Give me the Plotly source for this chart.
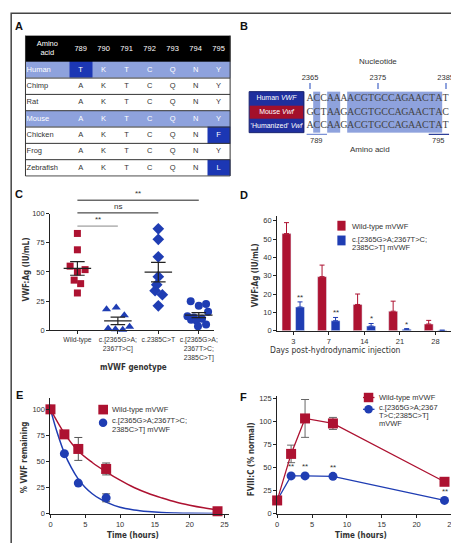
import plotly.graph_objects as go
import numpy as np

W, H = 459, 543
def px(x): return x / W
def py(y): return 1 - y / H

RED = '#ad1231'
BLUE = '#1f3db3'
LB = '#8ea2dd'
DB = '#1c37b4'
NAVY = '#1f2f9e'
BRED = '#a3102b'
FONT = 'Liberation Sans, Arial, sans-serif'
NARROW = 'Liberation Sans Narrow, DejaVu Sans Condensed, Liberation Sans, sans-serif'
SERIF = 'Liberation Serif, DejaVu Serif, serif'
TXT = '#333333'

# ---------------- data ----------------
# Panel A
aa_positions = [789, 790, 791, 792, 793, 794, 795]
species = ['Human', 'Chimp', 'Rat', 'Mouse', 'Chicken', 'Frog', 'Zebrafish']
residues = ['TKTCQNY', 'AKTCQNY', 'AKTCQNY', 'AKTCQNY', 'AKTCQNF', 'AKTCQNY', 'AKTCQNL']
highlight_species = ['Human', 'Mouse']

# Panel B
seq_labels = ['Human <i>VWF</i>', 'Mouse <i>Vwf</i>', "'Humanized' <i>Vwf</i>"]
seq_label_colors = [2, 3, 2]
sequences = ['ACCAAAACGTGCCAGAACTAT', 'GCTAAGACGTGCCAGAACTAC', 'ACCAAGACGTGCCAGAACTAT']
nt_first = 2365
nt_ticks = [2365, 2375, 2385]
codon_labels = [789, 795]
codon_first_nt = [2365, 2383]

# Panel C
genotype_labels = ['Wild-type', 'c.[2365G>A;<br>2367T>C]', 'c.2385C>T', 'c.[2365G>A;<br>2367T>C;<br>2385C>T]']
c_wt = [83, 69, 55, 52, 50, 43, 40, 32]
c_wt_jit = [0, 0, -0.18, 0.19, 0, -0.08, 0.08, 0]
c_dm = [18, 19.5, 13, 1.5, 1, 0.5, 3]
c_dm_jit = [-0.28, -0.04, 0.16, -0.24, -0.06, 0.12, 0.29]
c_sm = [87, 78, 63, 46, 39, 34, 30.5, 21]
c_sm_jit = [0, 0, 0, 0, -0.04, -0.08, 0.1, 0]
c_tm = [25, 22.5, 21, 16, 12, 11, 10, 9, 8.5, 5, 3.5]
c_tm_jit = [-0.2, 0.18, 0, 0.23, -0.28, -0.12, 0.08, -0.19, -0.06, 0.18, -0.02]
c_sig_pairs = [(0, 3), (0, 2), (0, 1)]
c_sig_text = ['**', 'ns', '**']
c_sig_height = [111.5, 100.6, 89.3]

# Panel D
days = ['3', '7', '14', '21', '28']
d_wt = [53, 29.5, 14.3, 10.6, 3.6]
d_wt_err = [6, 6.3, 5.7, 5.5, 2]
d_mut = [12.9, 5.4, 2.5, 0.7, 0.2]
d_mut_err = [2.8, 1.8, 1.4, 0.4, 0]
d_sig = ['**', '**', '*', '*', '']

# Panel E
e_t = [0, 2, 4, 8, 24]
e_wt = [100, 76, 62, 42.8, 2.2]
e_wt_err = [0, 0, 11, 5.7, 0]
e_mut_t = [0, 2, 4, 8]
e_mut = [100, 57.5, 29.2, 15.1]
e_mut_err = [0, 0, 0, 3.8]
fit_wt_t = [0, 2, 4, 6, 8, 10, 12, 14, 16, 18, 20, 22, 24]
fit_wt = [100, 77, 60, 49, 40, 32, 25, 19.5, 15, 11, 8, 5.5, 3.5]
fit_mut_t = [0, 1, 2, 3, 4, 5, 6, 7, 8, 10, 12, 14, 16, 18, 20, 24]
fit_mut = [100, 77, 58, 44, 33, 25, 19, 14.5, 11, 6, 3.5, 2, 1, 0.5, 0.2, 0]

# Panel F
f_t = [0, 2, 4, 8, 24]
f_wt = [14.2, 64.6, 103, 97.6, 34.4]
f_wt_err = [0, 9.5, 20.5, 6.5, 0]
f_mut = [14.5, 40.8, 40.8, 40.3, 14.2]
f_sig = ['', '**', '**', '**', '**']

fig = go.Figure()
shapes = []
ann = []

def A(x, y, text, size=7.5, color=TXT, family=FONT, xanchor='center', yanchor='middle', **kw):
    ann.append(dict(x=x, y=y, text=text, showarrow=False, xanchor=xanchor, yanchor=yanchor,
                    font=dict(size=size, color=color, family=family), **kw))

def P(x, y, text, **kw):
    A(px(x), py(y), text, xref='paper', yref='paper', **kw)

# ---------------- Panel A (table) ----------------
consensus = [max(set(col), key=col.count) for col in zip(*residues)]
z_a = [[3] * 8]
for r, sp in enumerate(species):
    base = 1 if sp in highlight_species else 0
    row = [base] + [2 if aa != consensus[j] else base for j, aa in enumerate(residues[r])]
    z_a.append(row)
xa_edges = [-1.9] + list(range(0, 8))
ya_edges = [0, 1.6] + [1.6 + k for k in range(1, 8)]
fig.add_trace(go.Heatmap(z=z_a, x=xa_edges, y=ya_edges, zmin=0, zmax=3, showscale=False,
                         colorscale=[[0, '#ffffff'], [1/3, LB], [2/3, DB], [1, '#000000']],
                         xaxis='x5', yaxis='y5', hoverinfo='skip'))
tx, ty, tt, tc = [-0.95], [0.8], ['Amino<br>acid'], ['white']
for j, p in enumerate(aa_positions):
    tx.append(j + 0.5); ty.append(0.8); tt.append(str(p)); tc.append('white')
for r, sp in enumerate(species):
    for j, aa in enumerate(residues[r]):
        tx.append(j + 0.5); ty.append(2.1 + r); tt.append(aa)
        tc.append('white' if z_a[r + 1][j + 1] > 0 else TXT)
fig.add_trace(go.Scatter(x=tx, y=ty, text=tt, mode='text', textfont=dict(size=7.5, color=tc, family=FONT),
                         xaxis='x5', yaxis='y5', hoverinfo='skip', showlegend=False))
fig.add_trace(go.Scatter(x=[-1.85] * len(species), y=[2.1 + r for r in range(len(species))], text=species,
                         mode='text', textposition='middle right',
                         textfont=dict(size=7.5, family=FONT,
                                       color=['white' if s in highlight_species else TXT for s in species]),
                         xaxis='x5', yaxis='y5', hoverinfo='skip', showlegend=False))
for e in ya_edges[2:]:
    shapes.append(dict(type='line', xref='x5', yref='y5', x0=-1.9, x1=7, y0=e, y1=e, line=dict(color='#333', width=1)))
for xv in [-1.9, 7]:
    shapes.append(dict(type='line', xref='x5', yref='y5', x0=xv, x1=xv, y0=0, y1=ya_edges[-1], line=dict(color='#333', width=1)))

# ---------------- Panel B (alignment) ----------------
n = len(sequences[0])
match = [len(set(s[i] for s in sequences)) == 1 for i in range(n)]
xb_edges = [-8.98, -0.92, -0.5] + [i + 0.5 for i in range(n)]
z_b = []
for r in range(3):
    z_b.append([seq_label_colors[r], None] + [1 if m else None for m in match])
fig.add_trace(go.Heatmap(z=z_b, x=xb_edges, y=[-0.5, 0.5, 1.5, 2.5], zmin=1, zmax=3, showscale=False,
                         colorscale=[[0, LB], [0.5, NAVY], [1, BRED]],
                         xaxis='x6', yaxis='y6', hoverinfo='skip'))
bx, by, bt = [], [], []
for r, s in enumerate(sequences):
    for i, ch in enumerate(s):
        bx.append(i); by.append(r); bt.append(ch)
fig.add_trace(go.Scatter(x=bx, y=by, text=bt, mode='text', textfont=dict(size=10, color='#444', family=SERIF),
                         xaxis='x6', yaxis='y6', hoverinfo='skip', showlegend=False))
fig.add_trace(go.Scatter(x=[-4.95] * 3, y=[0, 1, 2], text=seq_labels, mode='text',
                         textfont=dict(size=7, color='white', family=FONT),
                         xaxis='x6', yaxis='y6', hoverinfo='skip', showlegend=False))
shapes.append(dict(type='rect', xref='x6', yref='y6', x0=-8.98, x1=-0.92, y0=-0.5, y1=2.5,
                   line=dict(color='#1a2470', width=1)))
for k, (lab, nt) in enumerate(zip(codon_labels, codon_first_nt)):
    i0 = nt - nt_first
    shapes.append(dict(type='line', xref='x6', yref='y6', x0=i0 - 0.5, x1=i0 + 2.5, y0=2.62, y1=2.62,
                       line=dict(color=['#7d92d6', '#2d3f99'][k], width=1.3)))
    A(i0 + 1, 3.08, str(lab), xref='x6', yref='y6')
P(372.7, 50.7, 'Nucleotide', size=8)
P(365, 140, 'Amino acid', size=8)

# ---------------- Panel C ----------------
groups = [(c_wt, c_wt_jit, 'square', 7, RED), (c_dm, c_dm_jit, 'triangle-up', 8, BLUE),
          (c_sm, c_sm_jit, 'diamond', 9, BLUE), (c_tm, c_tm_jit, 'circle', 8, BLUE)]
mx, my = [], []
for gi, (vals, jit, sym, sz, col) in enumerate(groups):
    fig.add_trace(go.Scatter(x=[gi + j for j in jit], y=vals, mode='markers', cliponaxis=False,
                             marker=dict(symbol=sym, size=sz, color=col), xaxis='x', yaxis='y',
                             showlegend=False, hoverinfo='skip'))
    m = float(np.mean(vals)); se = float(np.std(vals, ddof=1) / np.sqrt(len(vals)))
    mx += [gi - 0.34, gi + 0.34, None, gi - 0.18, gi + 0.18, None, gi - 0.18, gi + 0.18, None, gi, gi, None]
    my += [m, m, None, m + se, m + se, None, m - se, m - se, None, m - se, m + se, None]
fig.add_trace(go.Scatter(x=mx, y=my, mode='lines', line=dict(color='#222', width=1.2), cliponaxis=False,
                         xaxis='x', yaxis='y', showlegend=False, hoverinfo='skip'))
C_Y0, C_Y1 = 323.7, 205.0
def c_px(v): return C_Y0 - v / 100 * (C_Y0 - C_Y1)
for (a, b), t, h in zip(c_sig_pairs, c_sig_text, c_sig_height):
    shapes.append(dict(type='line', xref='x', yref='paper', x0=a, x1=b, y0=py(c_px(h)), y1=py(c_px(h)),
                       line=dict(color='#222' if b > 1 else '#888', width=1)))
    A((a + b) / 2, py(c_px(h)), t, xref='x', yref='paper', yanchor='bottom', size=8)

# ---------------- Panel D ----------------
fig.add_trace(go.Bar(x=days, y=d_wt, marker_color=RED, xaxis='x2', yaxis='y2', showlegend=False,
                     error_y=dict(type='data', symmetric=False, array=d_wt_err, arrayminus=[0] * 5,
                                  color=RED, thickness=1, width=2.5), hoverinfo='skip'))
fig.add_trace(go.Bar(x=days, y=d_mut, marker_color=BLUE, xaxis='x2', yaxis='y2', showlegend=False,
                     error_y=dict(type='data', symmetric=False, array=d_mut_err, arrayminus=[0] * 5,
                                  color=BLUE, thickness=1, width=2.5), hoverinfo='skip'))
for i, (v, e, s) in enumerate(zip(d_mut, d_mut_err, d_sig)):
    if s:
        A(i, v + e, s, xref='x2', yref='y2', yanchor='bottom', xshift=7, yshift=-2, size=8)

# ---------------- Panel E ----------------
fig.add_trace(go.Scatter(x=fit_mut_t, y=fit_mut, mode='lines', line=dict(color=BLUE, width=1.5),
                         xaxis='x3', yaxis='y3', showlegend=False, hoverinfo='skip', line_shape='spline'))
fig.add_trace(go.Scatter(x=fit_wt_t, y=fit_wt, mode='lines', line=dict(color=RED, width=1.5),
                         xaxis='x3', yaxis='y3', showlegend=False, hoverinfo='skip', line_shape='spline'))
fig.add_trace(go.Scatter(x=e_mut_t, y=e_mut, mode='markers', marker=dict(symbol='circle', size=9, color=BLUE),
                         error_y=dict(type='data', array=e_mut_err, color='#555', thickness=1, width=4),
                         cliponaxis=False, xaxis='x3', yaxis='y3', showlegend=False, hoverinfo='skip'))
fig.add_trace(go.Scatter(x=e_t, y=e_wt, mode='markers', marker=dict(symbol='square', size=10, color=RED),
                         error_y=dict(type='data', array=e_wt_err, color='#555', thickness=1, width=4),
                         cliponaxis=False, xaxis='x3', yaxis='y3', showlegend=False, hoverinfo='skip'))

# ---------------- Panel F ----------------
fig.add_trace(go.Scatter(x=f_t, y=f_mut, mode='lines+markers', line=dict(color=BLUE, width=1.3),
                         marker=dict(symbol='circle', size=9, color=BLUE),
                         cliponaxis=False, xaxis='x4', yaxis='y4', showlegend=False, hoverinfo='skip'))
fig.add_trace(go.Scatter(x=f_t, y=f_wt, mode='lines+markers', line=dict(color=RED, width=1.3),
                         marker=dict(symbol='square', size=10, color=RED),
                         error_y=dict(type='data', array=f_wt_err, color='#666', thickness=1, width=4),
                         cliponaxis=False, xaxis='x4', yaxis='y4', showlegend=False, hoverinfo='skip'))
for t, v, s in zip(f_t, f_mut, f_sig):
    if s:
        A(t, v + 5, s, xref='x4', yref='y4', yanchor='bottom', yshift=-2, size=8)

# ---------------- legends ----------------
# D
shapes.append(dict(type='rect', xref='paper', yref='paper', x0=px(331.7), x1=px(340), y0=py(222.3), y1=py(212.3),
                   fillcolor=RED, line=dict(width=0)))
shapes.append(dict(type='rect', xref='paper', yref='paper', x0=px(331.7), x1=px(340), y0=py(237.3), y1=py(227.3),
                   fillcolor=BLUE, line=dict(width=0)))
P(344.3, 217.7, 'Wild-type mVWF', xanchor='left')
P(344.3, 231, 'c.[2365G>A;2367T>C;', xanchor='left')
P(344.3, 239.5, '2385C>T] mVWF', xanchor='left')
# E
shapes.append(dict(type='rect', xref='paper', yref='paper', x0=px(89.5), x1=px(99.3), y0=py(409.2), y1=py(399.4),
                   fillcolor=RED, line=dict(width=0)))
shapes.append(dict(type='circle', xref='paper', yref='paper', x0=px(90), x1=px(98.6), y0=py(422), y1=py(413.4),
                   fillcolor=BLUE, line=dict(width=0)))
P(101.7, 404.3, 'Wild-type mVWF', xanchor='left')
P(101.7, 415.7, 'c.[2365G>A;2367T>C;', xanchor='left')
P(101.7, 424.7, '2385C>T] mVWF', xanchor='left')
# F
for yy, col in [(392, RED), (404, BLUE)]:
    shapes.append(dict(type='line', xref='paper', yref='paper', x0=px(357.7), x1=px(369.3), y0=py(yy), y1=py(yy),
                       line=dict(color=col, width=1.3)))
shapes.append(dict(type='rect', xref='paper', yref='paper', x0=px(358.5), x1=px(368.1), y0=py(396.8), y1=py(387.2),
                   fillcolor=RED, line=dict(width=0)))
shapes.append(dict(type='circle', xref='paper', yref='paper', x0=px(359), x1=px(367.6), y0=py(408.3), y1=py(399.7),
                   fillcolor=BLUE, line=dict(width=0)))
P(371.7, 392, 'Wild-type mVWF', xanchor='left')
P(371.7, 402, 'c.[2365G>A;2367', xanchor='left')
P(371.7, 410, 'T>C;2385C>T]', xanchor='left')
P(371.7, 418, 'mVWF', xanchor='left')

# ---------------- titles / letters ----------------
for (x, y, t) in [(9.3, 14, 'A'), (236.7, 14, 'B'), (9.3, 185, 'C'), (237.3, 185.7, 'D'),
                  (10, 389.3, 'E'), (236.7, 391.7, 'F')]:
    P(x, y, '<b>%s</b>' % t, size=11, color='#111')
P(17, 262, '<b>VWF:Ag (IU/mL)</b>', size=8, family=NARROW, textangle=-90)
P(125, 361.7, '<b>mVWF genotype</b>', size=8, family=NARROW)
P(249, 268, '<b>VWF:Ag (IU/mL)</b>', size=8, family=NARROW, textangle=-90)
P(330, 344, 'Days post-hydrodynamic injection', size=8.5, family=NARROW)
P(15, 453, '<b>% VWF remaining</b>', size=8, family=NARROW, textangle=-90)
P(125, 532, '<b>Time (hours)</b>', size=8, family=NARROW)
P(245, 455, '<b>FVIII:C (% normal)</b>', size=8, family=NARROW, textangle=-90)
P(356, 532, '<b>Time (hours)</b>', size=8, family=NARROW)

# outer frame
shapes.append(dict(type='rect', xref='paper', yref='paper', x0=px(1.2), x1=px(457.6), y0=py(541.6), y1=py(1.2),
                   line=dict(color='#444', width=1.5)))

def axis(**kw):
    d = dict(showline=True, linecolor='#222', linewidth=1, ticks='outside', ticklen=3, tickcolor='#222',
             tickfont=dict(size=7.5, color=TXT, family=FONT), showgrid=False, zeroline=False, fixedrange=True,
             tickangle=0)
    d.update(kw)
    return d

fig.update_layout(
    width=W, height=H, margin=dict(l=0, r=0, t=0, b=0),
    paper_bgcolor='white', plot_bgcolor='white', showlegend=False,
    barmode='group', bargap=0.24, bargroupgap=0.34,
    font=dict(family=FONT, color=TXT),
    xaxis=axis(domain=[px(40.7), px(206.7)], range=[-0.673, 3.376], tickvals=[0, 1, 2, 3],
               ticktext=genotype_labels, anchor='y', tickfont=dict(size=6.8, color=TXT, family=FONT)),
    yaxis=axis(domain=[py(323.7), py(205.0)], range=[0, 100], tickvals=[0, 25, 50, 75, 100], anchor='x'),
    xaxis2=axis(domain=[px(270.7), px(447.3)], range=[-0.453, 4.45], type='category', anchor='y2'),
    yaxis2=axis(domain=[py(324), py(207.3)], range=[0, 62.7], tickvals=[0, 10, 20, 30, 40, 50, 60], anchor='x2'),
    xaxis3=axis(domain=[px(41), px(221.7)], range=[0, 25.62], tickvals=[0, 5, 10, 15, 20, 25], anchor='y3'),
    yaxis3=axis(domain=[py(510), py(392.7)], range=[0, 110.7], tickvals=[0, 25, 50, 75, 100], anchor='x3'),
    xaxis4=axis(domain=[px(270.7), px(451.7)], range=[0, 25.62], tickvals=[0, 5, 10, 15, 20, 25], anchor='y4'),
    yaxis4=axis(domain=[py(510), py(390)], range=[0, 127.8], tickvals=[0, 25, 50, 75, 100, 125], anchor='x4'),
    xaxis5=dict(domain=[px(14.5), px(224.2)], range=[-1.95, 7.05], visible=False, fixedrange=True, anchor='y5'),
    yaxis5=dict(domain=[py(167.6), py(23.2)], range=[8.65, -0.05], visible=False, fixedrange=True, anchor='x5'),
    xaxis6=dict(domain=[px(240.8), px(448.3)], range=[-9.2, 21], side='top', anchor='y6',
                tickvals=[t - nt_first for t in nt_ticks], ticktext=[str(t) for t in nt_ticks],
                ticks='outside', ticklen=6, tickwidth=1.5, tickcolor='#8ea2dd', showline=False,
                showgrid=False, zeroline=False, fixedrange=True, tickangle=0,
                tickfont=dict(size=7.5, color=TXT, family=FONT)),
    yaxis6=dict(domain=[py(133.8), py(79.6)], range=[3.3, -0.6], visible=False, fixedrange=True, anchor='x6'),
    shapes=shapes, annotations=ann,
)

fig.write_html('out.html')
